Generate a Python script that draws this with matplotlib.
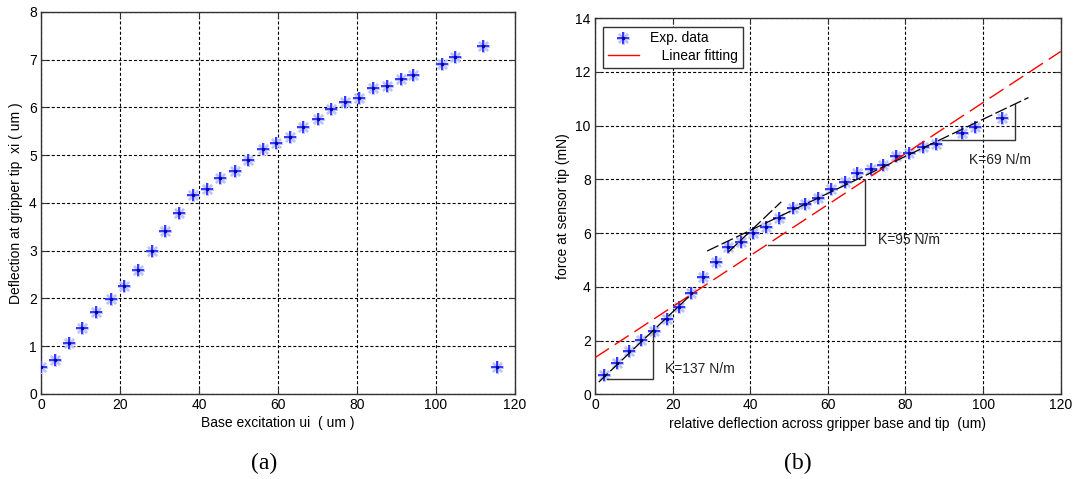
import numpy as np
import matplotlib
matplotlib.use("Agg")
import matplotlib.pyplot as plt

plt.rcParams['font.family'] = ['Liberation Sans', 'DejaVu Sans']
plt.rcParams['lines.scale_dashes'] = False

# (a) base excitation vs. deflection at gripper tip
base_ui = [0.0, 3.5, 7.0, 10.3, 14.0, 17.6, 20.9, 24.6, 28.1, 31.4, 35.0, 38.6,
           42.0, 45.4, 49.1, 52.4, 56.1, 59.6, 63.0, 66.4, 70.2, 73.4, 77.0, 80.5,
           84.0, 87.5, 91.1, 94.3, 101.5, 104.8, 112.0, 115.4]
tip_xi = [0.57, 0.72, 1.07, 1.39, 1.71, 1.98, 2.27, 2.59, 2.99, 3.41, 3.79, 4.16,
          4.30, 4.53, 4.67, 4.90, 5.12, 5.26, 5.39, 5.60, 5.76, 5.97, 6.12, 6.19,
          6.40, 6.46, 6.60, 6.67, 6.92, 7.06, 7.28, 0.57]

# (b) relative deflection vs. force at sensor tip
rel_defl = [2.3, 5.6, 8.7, 11.8, 15.3, 18.5, 21.7, 24.8, 27.9, 31.1, 34.4, 37.6,
            40.8, 44.1, 47.5, 50.9, 54.2, 57.4, 60.8, 64.3, 67.5, 71.0, 74.2, 77.6,
            80.9, 84.6, 87.9, 94.6, 97.9, 104.8]
force = [0.72, 1.18, 1.62, 2.02, 2.35, 2.80, 3.26, 3.78, 4.36, 4.91, 5.48, 5.68,
         6.02, 6.21, 6.57, 6.92, 7.10, 7.29, 7.64, 7.90, 8.22, 8.40, 8.52, 8.87,
         8.99, 9.21, 9.32, 9.72, 9.95, 10.29]

# overall linear fit (mN per um)
fit_intercept = 1.36
fit_slope = 0.095

# local stiffness lines: slope K (N/m -> mN/um), anchor point, x range
k_values = [137, 95, 69]
local_lines = [
    (0.137, (13.0, 2.10), (0.95, 25.3)),
    (0.137, (34.4, 5.30), (34.4, 48.0)),
    (0.069, (88.0, 9.41), (28.9, 111.7)),
]
# triangles: (x_left, x_right, y_base)
triangles = [(3.1, 14.9, 0.57), (44.6, 69.6, 5.55), (89.3, 108.2, 9.46)]
k_text_pos = [(18.0, 0.94), (73.0, 5.74), (96.5, 8.72)]

fig = plt.figure(figsize=(10.82, 4.79), dpi=100)
ax1 = fig.add_axes([0.0379, 0.1775, 0.438, 0.7975])
ax2 = fig.add_axes([0.5499, 0.177, 0.4304, 0.785])

grid_kw = dict(color='black', linewidth=0.8, dashes=(2.2, 1.5))

# marker layers: soft halo, blue cross, dark centre
star_layers = [
    dict(marker=(8, 2, 0), markersize=9, mew=1.7, color='#bcc4ff', zorder=3),
    dict(marker='+', markersize=9, mew=1.1, color='#1010ff', zorder=4),
    dict(marker='o', markersize=2.6, mew=0, color='#0000b0', zorder=4),
]


def star(ax, x, y):
    for kw in star_layers:
        ax.plot(x, y, linestyle='none', **kw)


def style(ax, xlim, ylim, yticks):
    ax.set_xlim(*xlim)
    ax.set_ylim(*ylim)
    ax.set_xticks(range(0, 121, 20))
    ax.set_yticks(yticks)
    ax.grid(True, **grid_kw)
    ax.set_axisbelow(True)
    ax.tick_params(direction='in', length=4, top=True, right=True,
                   labelsize=10, colors='#333333', labelcolor='black', pad=3)
    for s in ax.spines.values():
        s.set_color('#333333')
        s.set_linewidth(1.0)


# --- (a)
star(ax1, base_ui, tip_xi)
style(ax1, (0, 120), (0, 8), range(0, 9))
ax1.set_xlabel('Base excitation ui  ( um )', fontsize=10, labelpad=3)
ax1.set_ylabel('Deflection at gripper tip  xi ( um )', fontsize=10, labelpad=4)

# --- (b)
xs = np.array([0, 120])
star(ax2, rel_defl, force)
ax2.plot(xs, fit_intercept + fit_slope * xs, color='red', linewidth=1.0,
         dashes=(12, 5), zorder=5)

for slope, (x0, y0), (xa, xb) in local_lines:
    lx = np.array([xa, xb])
    ax2.plot(lx, y0 + slope * (lx - x0), color='black', linewidth=0.9,
             dashes=(9, 2.5), zorder=5)

# right-angle guides under each line
line_for_tri = [
    lambda x: local_lines[0][1][1] + local_lines[0][0] * (x - local_lines[0][1][0]),
    lambda x: fit_intercept + fit_slope * x,
    lambda x: local_lines[2][1][1] + local_lines[2][0] * (x - local_lines[2][1][0]),
]
for (xl, xr, yb), f in zip(triangles, line_for_tri):
    ax2.plot([xl, xr, xr], [yb, yb, f(xr)], color='#333333', linewidth=1.0, zorder=5)

for k, (tx, ty) in zip(k_values, k_text_pos):
    ax2.text(tx, ty, f'K={k} N/m', fontsize=10, va='center', ha='left', color='#222222')

style(ax2, (0, 120), (0, 14), range(0, 15, 2))
ax2.set_xlabel('relative deflection across gripper base and tip  (um)', fontsize=10, labelpad=3)
ax2.set_ylabel('force at sensor tip (mN)', fontsize=10, labelpad=4)

exp_handle = tuple(plt.Line2D([], [], linestyle='none', **{k: v for k, v in kw.items() if k != 'zorder'})
                   for kw in star_layers)
red_proxy = plt.Line2D([], [], color='red', linewidth=1.0)
leg = ax2.legend([exp_handle, red_proxy], ['Exp. data', '   Linear fitting'],
                 loc='upper left', fontsize=10, fancybox=False, framealpha=1,
                 edgecolor='#333333', borderaxespad=0.6, handlelength=2.2,
                 borderpad=0.35, labelspacing=0.25)
leg.get_frame().set_linewidth(1.0)

# panel captions
fig.text(264 / 1082, 1 - 463 / 479, '(a)', fontsize=17, family='Liberation Serif',
         ha='center', va='center')
fig.text(798 / 1082, 1 - 463 / 479, '(b)', fontsize=17, family='Liberation Serif',
         ha='center', va='center')

fig.savefig('out.png', dpi=100)
